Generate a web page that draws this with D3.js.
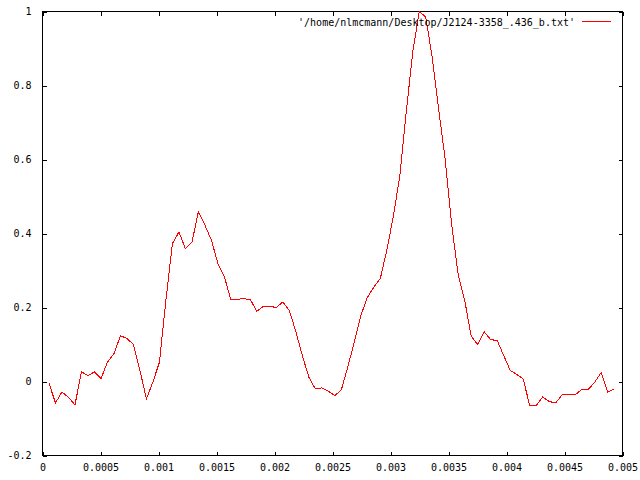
<!DOCTYPE html>
<html>
<head>
<meta charset="utf-8">
<script src="https://cdn.jsdelivr.net/npm/d3@7"></script>
<style>
	body { margin: 0; background: #fff; }
	svg { display: block; }
	text { font-family: "DejaVu Sans Mono", monospace; font-size: 10px; fill: #000; }
</style>
</head>
<body>
<svg id="chart" width="640" height="480"></svg>
<script>
// Pulse profile, one value per phase bin.
var binTimes = [
	0.000056, 0.000112, 0.000168, 0.000224, 0.00028, 0.000336, 0.000392, 0.000448, 0.000504, 0.00056,
	0.000616, 0.000672, 0.000728, 0.000784, 0.00084, 0.000896, 0.000952, 0.001008, 0.001064, 0.00112,
	0.001176, 0.001232, 0.001288, 0.001344, 0.0014, 0.001456, 0.001512, 0.001568, 0.001624, 0.00168,
	0.001736, 0.001792, 0.001848, 0.001904, 0.00196, 0.002016, 0.002072, 0.002128, 0.002184, 0.00224,
	0.002296, 0.002352, 0.002408, 0.002464, 0.00252, 0.002576, 0.002632, 0.002688, 0.002744, 0.0028,
	0.002856, 0.002912, 0.002968, 0.003024, 0.00308, 0.003136, 0.003192, 0.003248, 0.003304, 0.00336,
	0.003416, 0.003472, 0.003528, 0.003584, 0.00364, 0.003696, 0.003752, 0.003808, 0.003864, 0.00392,
	0.003976, 0.004032, 0.004088, 0.004144, 0.0042, 0.004256, 0.004312, 0.004368, 0.004424, 0.00448,
	0.004536, 0.004592, 0.004648, 0.004704, 0.00476, 0.004816, 0.004872, 0.004928
];
var intensity = [
	-0.005, -0.058, -0.028, -0.043, -0.063, 0.026, 0.016, 0.026, 0.008, 0.052,
	0.075, 0.124, 0.116, 0.100, 0.030, -0.047, -0.001, 0.052, 0.220, 0.373,
	0.404, 0.359, 0.376, 0.459, 0.423, 0.382, 0.319, 0.283, 0.221, 0.222,
	0.224, 0.221, 0.190, 0.203, 0.203, 0.200, 0.215, 0.192, 0.135, 0.070,
	0.012, -0.020, -0.017, -0.026, -0.038, -0.023, 0.040, 0.106, 0.178, 0.227,
	0.255, 0.278, 0.355, 0.445, 0.555, 0.729, 0.891, 1.000, 0.985, 0.875,
	0.734, 0.599, 0.423, 0.287, 0.219, 0.122, 0.100, 0.134, 0.113, 0.111,
	0.070, 0.030, 0.019, 0.007, -0.065, -0.065, -0.042, -0.054, -0.058, -0.036,
	-0.036, -0.036, -0.022, -0.022, -0.002, 0.024, -0.029, -0.020
];
var xTicks = [0, 0.0005, 0.001, 0.0015, 0.002, 0.0025, 0.003, 0.0035, 0.004, 0.0045, 0.005];
var yTicks = [-0.2, 0, 0.2, 0.4, 0.6, 0.8, 1];
var seriesLabel = "'/home/nlmcmann/Desktop/J2124-3358_.436_b.txt'";

var svg = d3.select('#chart');
// Plot frame edges (window.top is read-only, so avoid bare "top").
var frameLeft = 42.5, frameRight = 622.5, frameTop = 11.5, frameBottom = 455.5;

var x = d3.scaleLinear().domain([0, 0.005]).range([frameLeft, frameRight]);
var y = d3.scaleLinear().domain([-0.2, 1]).range([frameBottom, frameTop]);

var xFmt = function(d) { return String(+d.toFixed(4)); };
var yFmt = function(d) { return String(+d.toFixed(1)); };

// Axes with inward ticks, mirrored on top and right like gnuplot does.
function styleAxis(g) {
	g.select('.domain').remove();
	g.selectAll('line').attr('stroke', '#000').attr('shape-rendering', 'crispEdges');
	g.attr('font-family', null).attr('font-size', null);
}
svg.append('g').attr('transform', 'translate(0,' + frameBottom + ')')
	.call(d3.axisBottom(x).tickValues(xTicks).tickFormat(xFmt).tickSizeInner(-4).tickSizeOuter(0).tickPadding(8))
	.call(styleAxis);
svg.append('g').attr('transform', 'translate(0,' + frameTop + ')')
	.call(d3.axisTop(x).tickValues(xTicks).tickFormat('').tickSizeInner(-4).tickSizeOuter(0))
	.call(styleAxis);
svg.append('g').attr('transform', 'translate(' + frameLeft + ',0)')
	.call(d3.axisLeft(y).tickValues(yTicks).tickFormat(yFmt).tickSizeInner(-4).tickSizeOuter(0).tickPadding(11))
	.call(styleAxis);
svg.append('g').attr('transform', 'translate(' + frameRight + ',0)')
	.call(d3.axisRight(y).tickValues(yTicks).tickFormat('').tickSizeInner(-4).tickSizeOuter(0))
	.call(styleAxis);

// Frame.
svg.append('rect')
	.attr('x', frameLeft).attr('y', frameTop)
	.attr('width', frameRight - frameLeft).attr('height', frameBottom - frameTop)
	.attr('fill', 'none').attr('stroke', '#000').attr('shape-rendering', 'crispEdges');

// The profile.
var line = d3.line()
	.x(function(d, i) { return x(binTimes[i]); })
	.y(function(d) { return y(d); });
svg.append('path')
	.datum(intensity)
	.attr('d', line)
	.attr('fill', 'none')
	.attr('stroke', '#ff0000')
	.attr('stroke-width', 1)
	.attr('shape-rendering', 'crispEdges');

// Key.
svg.append('text')
	.attr('x', 575).attr('y', 26)
	.attr('text-anchor', 'end')
	.text(seriesLabel);
svg.append('line')
	.attr('x1', 582).attr('x2', 611)
	.attr('y1', 21.5).attr('y2', 21.5)
	.attr('stroke', '#ff0000')
	.attr('shape-rendering', 'crispEdges');
</script>
</body>
</html>
